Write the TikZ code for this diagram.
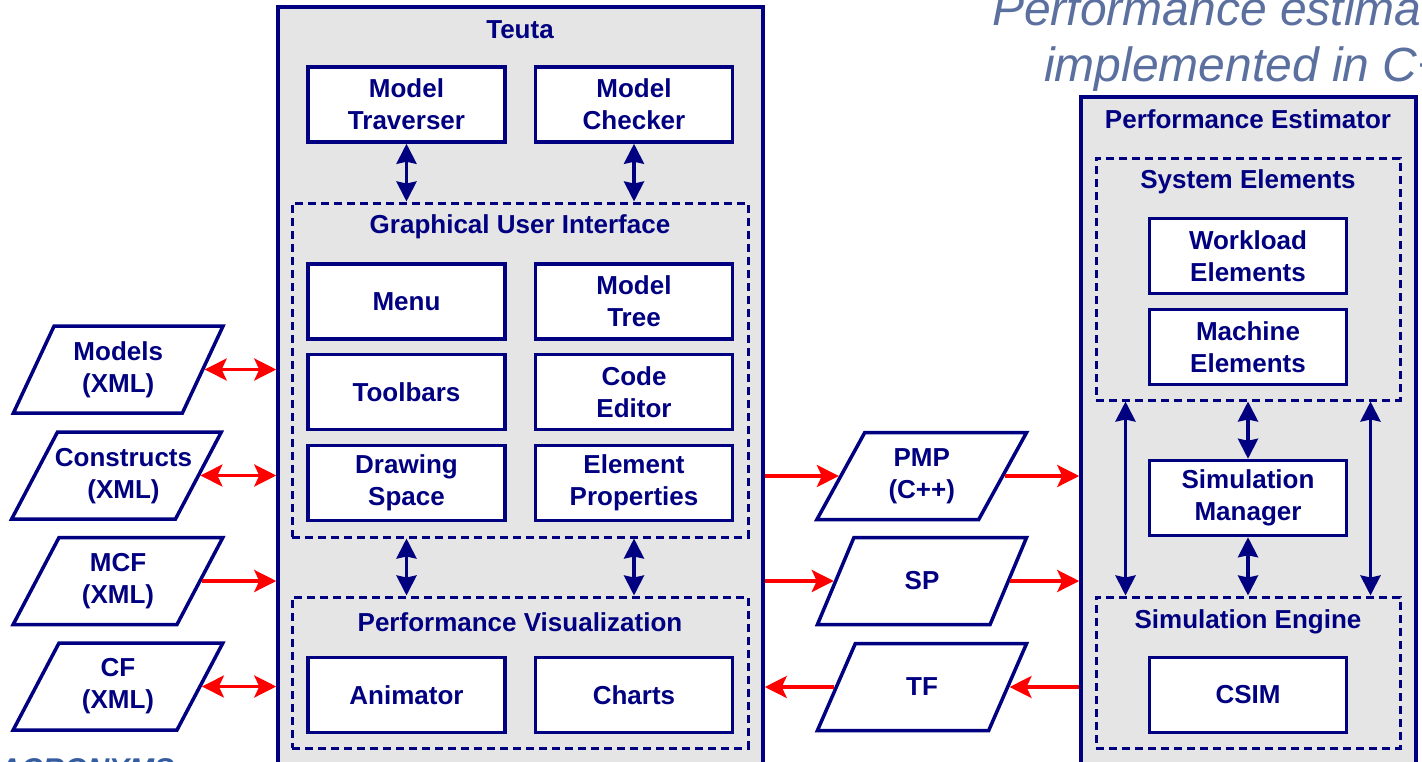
\documentclass[tikz,border=0pt]{standalone}
\usepackage{fontspec}
\setmainfont{Liberation Sans}
\usetikzlibrary{shapes.geometric,arrows.meta}
\definecolor{nv}{RGB}{0,0,128}
\definecolor{bgray}{RGB}{229,229,229}
\definecolor{topblue}{RGB}{92,112,160}
\definecolor{acrblue}{RGB}{52,92,160}
\tikzset{
  lbl/.style={font=\bfseries\fontsize{26}{32}\selectfont, text=nv, align=center, inner sep=0pt},
  wbox/.style={lbl, draw=nv, line width=3.5pt, fill=white, minimum width=197pt, minimum height=75pt},
  cont/.style={draw=nv, line width=3.5pt, fill=bgray, inner sep=0pt},
  dbox/.style={draw=nv, line width=3pt, dash pattern=on 8pt off 5pt, inner sep=0pt},
  para/.style={lbl, draw=nv, line width=3.5pt, fill=white, shape=trapezium,
     trapezium left angle=63.2, trapezium right angle=116.8, trapezium stretches=true,
     minimum width=210pt, minimum height=87pt},
  redarr/.style={draw=red, line width=3.5pt, -{Stealth[length=22pt,width=22pt,inset=5pt]}},
  redarrb/.style={draw=red, line width=3.5pt, {Stealth[length=22pt,width=22pt,inset=5pt]}-{Stealth[length=22pt,width=22pt,inset=5pt]}},
  navarr/.style={draw=nv, line width=3.5pt, {Stealth[length=20pt,width=20pt,inset=2pt]}-{Stealth[length=20pt,width=20pt,inset=2pt]}},
}
\begin{document}
\begin{tikzpicture}[x=1pt,y=-1pt]
\useasboundingbox (0,0) rectangle (1422,761);
\clip (0,0) rectangle (1422,761);
\fill[white] (0,0) rectangle (1422,761);

% top texts (cut by the frame)
\node[anchor=base west, inner sep=0pt, text=topblue, font=\itshape\fontsize{48}{57}\selectfont] (tt1) at (992,25) {Performance estimator};
\node[anchor=base west, inner sep=0pt, text=topblue, font=\itshape\fontsize{48}{57}\selectfont] (tt2) at (1044,81) {implemented in C++};
\node[anchor=base west, inner sep=0pt, text=acrblue, font=\bfseries\itshape\fontsize{30}{36}\selectfont] (acr) at (-1,779) {ACRONYMS};

% Teuta
\node[cont, minimum width=485pt, minimum height=793pt] (teuta) at (520.5,403.5) {};
\node[lbl] (teutaT) at (520,30) {Teuta};
\node[wbox] (trav) at (406.5,104.5) {Model\\Traverser};
\node[wbox] (check) at (634,104.5) {Model\\Checker};
\node[dbox, minimum width=456pt, minimum height=334pt] (gui) at (520,370) {};
\node[lbl] (guiT) at (520,227) {Graphical User Interface};
\node[wbox] (menu) at (406.5,301.5) {Menu};
\node[wbox] (tree) at (634,301.5) {Model\\Tree};
\node[wbox] (tool) at (406.5,392) {Toolbars};
\node[wbox] (code) at (634,392) {Code\\Editor};
\node[wbox] (draw) at (406.5,483) {Drawing\\Space};
\node[wbox] (prop) at (634,483) {Element\\Properties};
\node[dbox, minimum width=456pt, minimum height=151pt] (pv) at (520,672.5) {};
\node[lbl] (pvT) at (520,622) {Performance Visualization};
\node[wbox] (anim) at (406.5,695) {Animator};
\node[wbox] (charts) at (634,695) {Charts};

\draw[navarr] (trav.south) -- (trav.south |- gui.north);
\draw[navarr] (check.south) -- (check.south |- gui.north);
\draw[navarr] (gui.south -| trav.south) -- (pv.north -| trav.south);
\draw[navarr] (gui.south -| check.south) -- (pv.north -| check.south);

% Performance Estimator
\node[cont, minimum width=335pt, minimum height=703pt] (pe) at (1248.5,448.5) {};
\node[lbl] (peT) at (1248,119) {Performance Estimator};
\node[dbox, minimum width=304pt, minimum height=242pt] (sys) at (1248,279) {};
\node[lbl] (sysT) at (1248,182) {System Elements};
\node[wbox] (work) at (1248,256) {Workload\\Elements};
\node[wbox] (mach) at (1248,347) {Machine\\Elements};
\node[wbox] (simman) at (1248,498) {Simulation\\Manager};
\node[dbox, minimum width=304pt, minimum height=151pt] (simeng) at (1248,672.5) {};
\node[lbl] (simengT) at (1248,622) {Simulation Engine};
\node[wbox] (csim) at (1248,695) {CSIM};

\coordinate (sl) at ([xshift=31pt]sys.south west);
\coordinate (sr) at ([xshift=-31pt]sys.south east);
\draw[navarr] (sl) -- (sl |- simeng.north);
\draw[navarr] (sr) -- (sr |- simeng.north);
\draw[navarr] (sys.south -| simman.north) -- (simman.north);
\draw[navarr] (simman.south) -- (simeng.north -| simman.south);

% left files
\node[para] (models) at (118.25,369.5) {Models\\(XML)};
\node[para] (constr) at (116.5,475.5) {\phantom{MCF}\\\phantom{(XML)}};
\node[lbl] (constrL) at (123.5,476) {Constructs\\(XML)};
\node[para] (mcf) at (118,581) {MCF\\(XML)};
\node[para] (cf) at (118,686.5) {CF\\(XML)};

\draw[redarrb] (models.east) -- (models.east -| teuta.west);
\draw[redarrb] (constr.east) -- (constr.east -| teuta.west);
\draw[redarr] (mcf.east) -- (mcf.east -| teuta.west);
\draw[redarrb] (cf.east) -- (cf.east -| teuta.west);

% middle files
\node[para] (pmp) at (921.75,476) {PMP\\(C++)};
\node[para] (sp) at (922,581) {SP};
\node[para] (tf) at (922,687) {TF};

\draw[redarr] (pmp.west -| teuta.east) -- (pmp.west);
\draw[redarr] (pmp.east) -- (pmp.east -| pe.west);
\draw[redarr] (sp.west -| teuta.east) -- (sp.west);
\draw[redarr] (sp.east) -- (sp.east -| pe.west);
\draw[redarr] (tf.east -| pe.west) -- (tf.east);
\draw[redarr] (tf.west) -- (tf.west -| teuta.east);
\end{tikzpicture}
\end{document}
